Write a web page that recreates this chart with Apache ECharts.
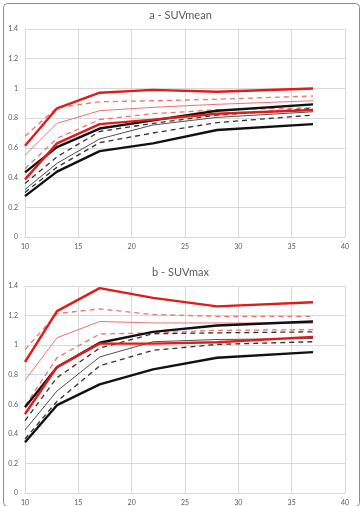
<!DOCTYPE html>
<html>
<head>
    <meta charset="UTF-8">
    <title>SUV</title>
    <style>
        *{margin:0;padding:0;}
        html,body{background:#fff;}
        .container{width:361px;height:506px;}
    </style>
    <script src="https://cdn.jsdelivr.net/npm/echarts@6/dist/echarts.min.js"></script>
</head>
<body>
<div class="container"></div>
<script>
    // x values (same for both panels)
    const xs = [10, 13, 17, 22, 28, 37];
    const xTicks = [10, 15, 20, 25, 30, 35, 40];
    const yTicks = [0, 0.2, 0.4, 0.6, 0.8, 1, 1.2, 1.4];

    // a - SUVmean
    const meanRedMax = [0.614, 0.866, 0.971, 0.99, 0.978, 1.0];
    const meanRedUp  = [0.68, 0.87, 0.91, 0.917, 0.927, 0.949];
    const meanRedAvg = [0.55, 0.765, 0.85, 0.873, 0.893, 0.917];
    const meanRedLow = [0.46, 0.664, 0.79, 0.83, 0.856, 0.87];
    const meanRedMin = [0.388, 0.63, 0.76, 0.79, 0.83, 0.855];
    const meanBlkMax = [0.435, 0.605, 0.73, 0.785, 0.85, 0.893];
    const meanBlkUp  = [0.36, 0.54, 0.71, 0.765, 0.82, 0.865];
    const meanBlkAvg = [0.32, 0.496, 0.66, 0.754, 0.805, 0.843];
    const meanBlkLow = [0.30, 0.47, 0.635, 0.70, 0.77, 0.821];
    const meanBlkMin = [0.275, 0.44, 0.578, 0.63, 0.72, 0.76];

    // b - SUVmax
    const maxRedMax = [0.886, 1.23, 1.386, 1.32, 1.262, 1.29];
    const maxRedUp  = [0.97, 1.213, 1.245, 1.207, 1.195, 1.195];
    const maxRedAvg = [0.762, 1.05, 1.16, 1.15, 1.15, 1.148];
    const maxRedLow = [0.59, 0.915, 1.075, 1.083, 1.10, 1.105];
    const maxRedMin = [0.534, 0.852, 1.01, 1.01, 1.02, 1.056];
    const maxBlkMax = [0.58, 0.85, 1.016, 1.09, 1.133, 1.16];
    const maxBlkUp  = [0.49, 0.78, 0.98, 1.077, 1.083, 1.09];
    const maxBlkAvg = [0.426, 0.69, 0.92, 1.023, 1.038, 1.045];
    const maxBlkLow = [0.365, 0.62, 0.86, 0.965, 1.005, 1.023];
    const maxBlkMin = [0.343, 0.594, 0.735, 0.836, 0.915, 0.953];

    const styles = {
        redThick: {color:'#e31a1a', width:2.4, type:'solid'},
        redThin:  {color:'#f07272', width:1, type:'solid'},
        redDash:  {color:'#f07272', width:1.3, type:[5,4]},
        blkThick: {color:'#111111', width:2.4, type:'solid'},
        blkThin:  {color:'#505050', width:1, type:'solid'},
        blkDash:  {color:'#333333', width:1.3, type:[5,4]}
    };

    const panels = [
        [[meanRedUp,'redDash'],[meanRedLow,'redDash'],[meanBlkUp,'blkDash'],[meanBlkLow,'blkDash'],
         [meanRedAvg,'redThin'],[meanBlkAvg,'blkThin'],
         [meanBlkMax,'blkThick'],[meanBlkMin,'blkThick'],[meanRedMax,'redThick'],[meanRedMin,'redThick']],
        [[maxRedUp,'redDash'],[maxRedLow,'redDash'],[maxBlkUp,'blkDash'],[maxBlkLow,'blkDash'],
         [maxRedAvg,'redThin'],[maxBlkAvg,'blkThin'],
         [maxBlkMax,'blkThick'],[maxBlkMin,'blkThick'],[maxRedMax,'redThick'],[maxRedMin,'redThick']]
    ];

    let series = [];
    panels.forEach((list, p) => {
        list.forEach(([vals, st]) => {
            series.push({
                type:'line',
                xAxisIndex:p,
                yAxisIndex:p,
                data: xs.map((x,i)=>[x, vals[i]]),
                symbol:'none',
                lineStyle: styles[st],
                silent:true
            })
        })
    });

    const labelStyle = {color:'#595959', fontSize:7, fontFamily:'Lato'};
    const gridLine = {show:true, lineStyle:{color:'#d9d9d9', width:1}};

    function xAxis(i){
        return {
            type:'value', gridIndex:i, min:xTicks[0], max:xTicks[xTicks.length-1], interval:5,
            axisLine:{show:true, lineStyle:{color:'#d9d9d9'}},
            axisTick:{show:false},
            axisLabel:Object.assign({margin:6}, labelStyle),
            splitLine:gridLine
        }
    }
    function yAxis(i){
        return {
            type:'value', gridIndex:i, min:yTicks[0], max:yTicks[yTicks.length-1], interval:0.2,
            axisLine:{show:false},
            axisTick:{show:false},
            axisLabel:Object.assign({margin:7}, labelStyle),
            splitLine:gridLine
        }
    }

    let mychart = echarts.init(document.querySelector('.container'));
    let option = {
        animation:false,
        backgroundColor:'#fff',
        title:[
            {text:'a - SUVmean', left:'center', top:5, textStyle:{color:'#595959', fontSize:11, fontWeight:'normal', fontFamily:'Lato'}},
            {text:'b - SUVmax', left:'center', top:262, textStyle:{color:'#595959', fontSize:11, fontWeight:'normal', fontFamily:'Lato'}}
        ],
        grid:[
            {left:25, top:29, width:320, height:208},
            {left:25, top:286, width:320, height:208}
        ],
        xAxis:[xAxis(0), xAxis(1)],
        yAxis:[yAxis(0), yAxis(1)],
        graphic:[{
            type:'rect', left:1, top:1, silent:true,
            shape:{width:356, height:503, r:4},
            style:{fill:'none', stroke:'#8c8c8c', lineWidth:1}
        }],
        series
    };
    mychart.setOption(option);
</script>
</body>
</html>
